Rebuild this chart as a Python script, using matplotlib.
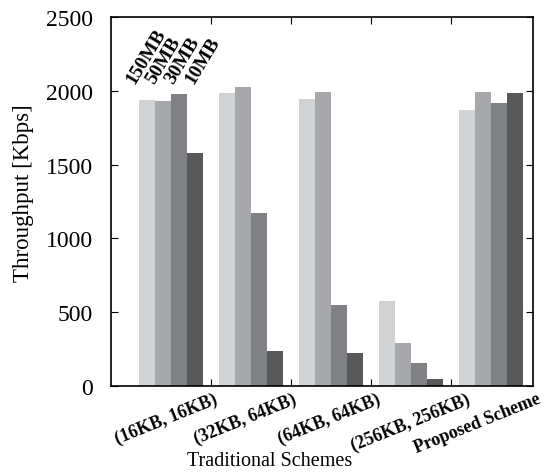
import matplotlib
matplotlib.use("Agg")
import matplotlib.pyplot as plt
import matplotlib.transforms as mtransforms
import numpy as np

schemes = ["(16KB, 16KB)", "(32KB, 64KB)", "(64KB, 64KB)", "(256KB, 256KB)", "Proposed Scheme"]
file_sizes = ["150MB", "50MB", "30MB", "10MB"]
throughput = {
    "150MB": [1939, 1984, 1946, 574, 1872],
    "50MB": [1932, 2025, 1993, 290, 1993],
    "30MB": [1978, 1173, 547, 155, 1919],
    "10MB": [1581, 236, 221, 47, 1986],
}
colors = ["#d1d2d4", "#a7a8ab", "#808184", "#58595b"]
y_ticks = [0, 500, 1000, 1500, 2000, 2500]

plt.rcParams["font.family"] = ["Liberation Serif", "DejaVu Serif"]

fig = plt.figure(figsize=(5.45, 4.77), dpi=100)
ax = fig.add_axes([111 / 545, 1 - 387 / 477, (533 - 111) / 545, (387 - 18) / 477])

x = np.arange(len(schemes))
width = 0.2
for i, size in enumerate(file_sizes):
    ax.bar(x + (i - 1.5) * width, throughput[size], width, color=colors[i], linewidth=0)

ax.set_xlim(-0.744, 4.53)
ax.set_ylim(0, 2500)
ax.set_yticks(y_ticks)
ax.tick_params(axis="y", which="both", direction="in", right=True, labelsize=17,
               length=5, width=0.8, pad=13)

# group separators as tick marks on top and bottom
ax.set_xticks(x[:-1] + 0.5, minor=True)
ax.tick_params(axis="x", which="minor", direction="in", top=True, bottom=True, length=5, width=0.8)
ax.set_xticks(x)
ax.set_xticklabels(schemes, fontweight="bold", fontsize=13, rotation=22,
                   ha="right", va="top", rotation_mode="anchor")
ax.tick_params(axis="x", which="major", length=0, pad=3)
label_shift_px = [43, 42, 46, 56, 46]
for lbl, dx in zip(ax.get_xticklabels(), label_shift_px):
    lbl.set_transform(lbl.get_transform()
                      + mtransforms.ScaledTranslation(dx / 100, 0, fig.dpi_scale_trans))

for sp in ax.spines.values():
    sp.set_linewidth(1.2)

ax.set_ylabel("Throughput [Kbps]", fontsize=16.5)
ax.yaxis.set_label_coords(-0.183, 0.526)
ax.set_xlabel("Traditional Schemes", fontsize=14.5)
ax.xaxis.set_label_coords(0.377, -0.177)

# series names written above the first group
for i, size in enumerate(file_sizes):
    ax.text(-0.41 + i * 0.246, 2030, size, rotation=59, fontweight="bold", fontsize=14,
            ha="left", va="bottom", rotation_mode="anchor")

fig.savefig("out.png", dpi=100)
